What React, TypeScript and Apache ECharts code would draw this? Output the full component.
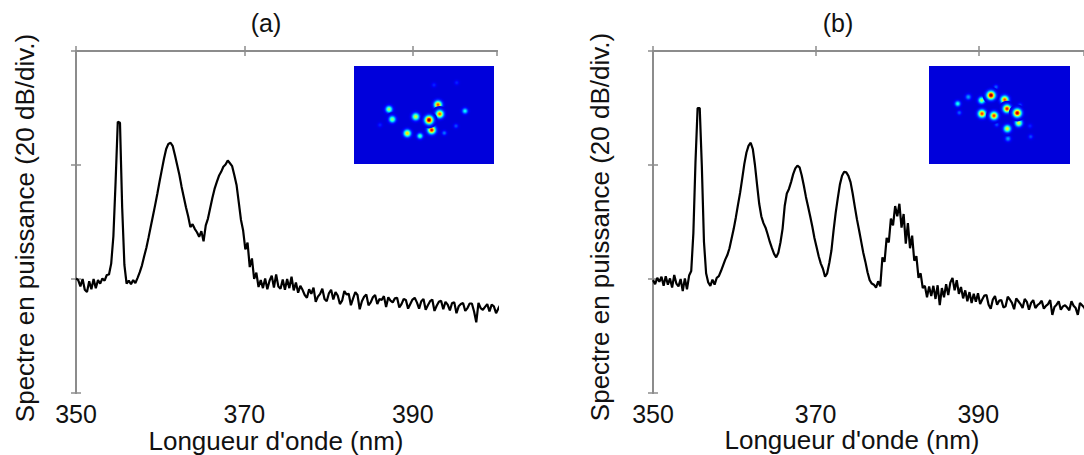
import React, { useEffect, useRef } from "react";
import * as echarts from "echarts";

// ---------- data ----------
// Spectra were read off the figure at a regular sampling step (nm) starting at 350 nm
const STEP_NM = 0.2612;
const START_NM = 350;

// Panel (a): power spectrum, dB (20 dB/div)
const spectrumA = [
  -39.9,
  -40.2, -41.3, -40.0, -41.9, -42.3, -40.4, -41.8, -40.0, -41.6, -40.2,
  -40.8, -39.9, -40.3, -39.3, -39.2, -37.3, -32.5, -23.0, -12.4, -12.6,
  -27.5, -37.5, -40.8, -40.3, -40.9, -40.2, -40.7, -39.8, -38.8, -37.6,
  -36.0, -34.5, -32.7, -30.8, -28.9, -27.0, -25.0, -22.9, -20.9, -18.9,
  -17.2, -16.3, -16.1, -16.7, -18.3, -20.0, -21.7, -23.8, -25.6, -27.4,
  -29.0, -30.9, -30.4, -31.2, -31.8, -32.6, -31.6, -33.4, -30.6, -29.4,
  -27.6, -25.8, -24.2, -23.0, -21.9, -21.2, -20.3, -19.9, -19.2, -19.7,
  -20.2, -21.8, -23.5, -26.5, -29.6, -31.5, -34.8, -33.6, -37.9, -36.4,
  -40.0, -38.9, -41.4, -40.2, -41.6, -39.9, -41.8, -40.3, -39.4, -41.5,
  -39.2, -41.3, -41.7, -40.1, -41.9, -40.0, -41.6, -39.6, -42.0, -40.6,
  -42.4, -41.2, -41.9, -42.8, -43.3, -41.8, -42.6, -41.5, -44.0, -43.1,
  -42.6, -41.7, -43.5, -43.9, -42.5, -41.9, -43.6, -42.3, -42.9, -44.4,
  -43.8, -42.1, -42.7, -42.6, -44.6, -43.4, -42.3, -42.8, -45.3, -43.9,
  -43.1, -42.7, -44.6, -44.1, -43.2, -42.8, -44.4, -43.5, -43.7, -43.0,
  -44.9, -43.2, -43.8, -44.1, -43.4, -43.3, -45.0, -44.4, -43.5, -43.7,
  -45.2, -44.4, -43.6, -43.3, -44.1, -45.2, -43.9, -43.5, -45.4, -44.6,
  -43.9, -43.6, -45.6, -44.7, -44.0, -43.8, -45.3, -44.0, -44.5, -45.5,
  -44.2, -44.1, -46.0, -44.8, -44.4, -44.2, -45.6, -45.1, -44.3, -44.3,
  -45.7, -47.6, -44.2, -45.1, -45.4, -44.9, -44.4, -45.7, -44.5, -44.8,
  -46.0, -45.2, -44.5, -44.9, -45.8, -46.3, -44.6, -45.2, -44.4, -46.4,
  -44.9,
];

// Panel (b): power spectrum, dB
const spectrumB = [
  -40.2, -40.9, -39.8,
  -40.5, -39.6, -41.2, -39.5, -41.0, -39.9, -41.5, -39.3, -40.8, -41.3,
  -40.0, -42.1, -39.9, -41.8, -39.4, -38.6, -32.0, -19.5, -10.0, -10.0,
  -20.3, -33.5, -39.0, -40.6, -41.2, -40.1, -41.0, -39.8, -39.5, -38.6,
  -37.6, -36.6, -35.8, -34.6, -32.9, -31.2, -29.2, -27.0, -24.9, -22.4,
  -19.8, -17.8, -16.6, -16.1, -17.2, -20.0, -23.5, -26.8, -29.0, -30.2,
  -31.0, -32.2, -33.5, -34.6, -35.6, -36.2, -35.4, -33.6, -31.2, -27.2,
  -25.0, -24.2, -23.0, -21.6, -20.6, -20.1, -20.4, -21.8, -23.6, -25.6,
  -27.3, -29.0, -30.8, -32.8, -34.4, -36.0, -37.3, -38.2, -39.6, -39.0,
  -37.2, -35.0, -31.5, -28.4, -25.8, -23.4, -21.9, -21.2, -21.3, -21.9,
  -23.0, -25.0, -27.3, -29.5, -31.4, -33.4, -35.4, -37.0, -38.8, -40.2,
  -40.8, -41.0, -41.5, -40.4, -41.3, -36.2, -37.0, -32.8, -33.6, -29.4,
  -30.6, -27.2, -29.0, -26.8, -31.0, -28.6, -33.8, -30.2, -34.6, -32.4,
  -36.8, -36.0, -39.8, -39.0, -41.6, -41.2, -43.2, -41.3, -43.0, -41.2,
  -43.5, -41.1, -44.6, -41.6, -43.2, -40.9, -42.8, -40.6, -39.8, -42.0,
  -40.2, -42.6, -41.4, -43.4, -42.0, -43.9, -42.3, -44.2, -42.6, -44.0,
  -42.5, -44.4, -43.6, -42.9, -42.8, -44.5, -45.2, -43.6, -43.0, -44.5,
  -43.8, -43.7, -45.0, -44.8, -43.1, -43.6, -44.2, -45.3, -43.4, -43.9,
  -44.4, -45.1, -43.5, -44.0, -45.4, -44.2, -43.7, -45.1, -44.6, -44.3,
  -43.8, -45.2, -44.7, -44.4, -43.7, -46.3, -44.9, -44.5, -43.9, -45.4,
  -44.8, -44.6, -45.0, -45.5, -43.9, -44.7, -45.1, -46.3, -44.2, -44.6,
  -45.0, -45.8, -44.2, -44.6, -45.3, -45.9, -44.4, -44.7, -45.5,
];

const xTickStep = 20; // ticks at 350, 370, 390 nm
const panelTitles = ["(a)", "(b)"];
const xAxisTitle = "Longueur d'onde (nm)";
const yAxisTitle = "Spectre en puissance (20 dB/div.)";

// Inset camera images: spots [x, y, peak intensity 0..1, radius] in inset pixels
const spotsA = [
  [26, 59, 0.16, 5], [80, 19, 0.16, 5], [102.7, 16.7, 0.16, 5], [102, 60, 0.2, 5],
  [90.3, 67, 0.24, 5], [111, 45, 0.38, 6], [66, 70, 0.45, 6],
  [35, 43.3, 0.55, 7], [38.3, 53.3, 0.52, 7], [61.7, 50.7, 0.6, 7.5],
  [53.3, 67.3, 0.68, 7.5], [84, 38.7, 0.82, 8], [85.7, 48, 0.8, 8],
  [77.7, 64, 0.9, 8], [75, 54, 1.0, 8.5],
];
const spotsB = [
  [101, 60, 0.16, 5], [67.7, 58.7, 0.2, 5], [91, 39.3, 0.2, 5], [30.3, 46.7, 0.22, 5],
  [101.7, 70.7, 0.2, 5], [67, 21, 0.22, 5], [79, 72.7, 0.28, 6], [39.3, 31, 0.28, 6],
  [28.7, 37.7, 0.4, 6], [52.7, 34.3, 0.55, 7], [89.7, 57, 0.62, 7.5],
  [78.3, 62.7, 0.62, 7.5], [75.7, 33.7, 0.82, 8], [53, 47.7, 0.84, 8],
  [65, 49.7, 0.84, 8], [78, 42.7, 0.88, 8], [88.3, 47, 0.95, 8.5], [62, 29.3, 1.0, 8.5],
];

// ---------- helpers ----------
const clamp = (v: number) => Math.max(0, Math.min(1, v));
function jet(v: number): string {
  const r = clamp(1.5 - Math.abs(4 * v - 3));
  const g = clamp(1.5 - Math.abs(4 * v - 2));
  const b = clamp(1.5 - Math.abs(4 * v - 1));
  return `rgb(${Math.round(r * 255)},${Math.round(g * 255)},${Math.round(b * 255)})`;
}
const BG_LEVEL = 0.09;

function insetGroup(x: number, y: number, w: number, h: number, spots: number[][]) {
  const children: any[] = [
    { type: "rect", shape: { x: 0, y: 0, width: w, height: h }, style: { fill: jet(BG_LEVEL) } },
  ];
  spots.forEach(([sx, sy, p, r]) => {
    const offs = [0, 0.1, 0.2, 0.3, 0.4, 0.5, 0.6, 0.7, 0.85, 1];
    const colorStops = offs.map((o) => ({
      offset: o,
      color: jet(BG_LEVEL + (p - BG_LEVEL) * Math.exp(-Math.pow(o * 2.3, 2))),
    }));
    children.push({
      type: "circle",
      shape: { cx: sx, cy: sy, r: r },
      style: { fill: { type: "radial", x: 0.5, y: 0.5, r: 0.5, colorStops } },
    });
  });
  return { type: "group", x, y, children, z: 100 };
}

const FONT = "'Liberation Sans', Arial, sans-serif";
const AXIS_COLOR = "#8c8c8c";
const TEXT_COLOR = "#111111";

// x is expressed as offset from 350 nm so that ticks fall on 350, 370, 390
function toPairs(values: number[]) {
  return values.map((v, i) => [i * STEP_NM, v]);
}

export default function App() {
  const ref = useRef<HTMLDivElement>(null);

  useEffect(() => {
    if (!ref.current) return;
    const chart = echarts.init(ref.current, undefined, { renderer: "svg" });

    const axisLine = { show: true, lineStyle: { color: AXIS_COLOR, width: 2 } };
    const tick = {
      show: true,
      inside: true,
      length: 5,
      lineStyle: { color: AXIS_COLOR, width: 1.5 },
    };

    const xAxes: any[] = [];
    const yAxes: any[] = [];
    const xMax = [50, 53];
    [0, 1].forEach((g) => {
      xAxes.push({
        type: "value",
        gridIndex: g,
        position: "bottom",
        min: 0,
        max: xMax[g],
        interval: xTickStep,
        axisLine,
        axisTick: tick,
        axisLabel: {
          formatter: (v: number) => String(v + START_NM),
          fontSize: 25,
          color: TEXT_COLOR,
          fontFamily: FONT,
          margin: 8,
          showMaxLabel: false,
        },
        splitLine: { show: false },
      });
      xAxes.push({
        type: "value",
        gridIndex: g,
        position: "top",
        min: 0,
        max: xMax[g],
        interval: xTickStep,
        axisLine,
        axisTick: tick,
        axisLabel: { show: false },
        splitLine: { show: false },
      });
      yAxes.push({
        type: "value",
        gridIndex: g,
        position: "left",
        min: -60,
        max: 0,
        interval: 20,
        axisLine,
        axisTick: tick,
        axisLabel: { show: false },
        splitLine: { show: false },
      });
      yAxes.push({
        type: "value",
        gridIndex: g,
        position: "right",
        min: -60,
        max: 0,
        interval: 20,
        axisLine,
        axisTick: tick,
        axisLabel: { show: false },
        splitLine: { show: false },
      });
    });

    const textEl = (x: number, y: number, text: string, size: number, rotate = 0) => ({
      type: "text",
      x,
      y,
      rotation: rotate,
      style: {
        text,
        fill: TEXT_COLOR,
        font: `${size}px ${FONT}`,
        textAlign: "center",
        textVerticalAlign: "middle",
      },
    });

    chart.setOption({
      animation: false,
      backgroundColor: "#ffffff",
      grid: [
        { left: 76, top: 51, width: 421, height: 342 },
        { left: 653, top: 51, width: 443, height: 342 },
      ],
      xAxis: xAxes,
      yAxis: yAxes,
      series: [
        {
          type: "line",
          name: panelTitles[0],
          xAxisIndex: 0,
          yAxisIndex: 0,
          data: toPairs(spectrumA),
          showSymbol: false,
          lineStyle: { color: "#000000", width: 2.2 },
          clip: true,
        },
        {
          type: "line",
          name: panelTitles[1],
          xAxisIndex: 2,
          yAxisIndex: 2,
          data: toPairs(spectrumB),
          showSymbol: false,
          lineStyle: { color: "#000000", width: 2.2 },
          clip: true,
        },
      ],
      graphic: [
        textEl(266, 23, panelTitles[0], 25),
        textEl(838, 23, panelTitles[1], 25),
        textEl(276, 441, xAxisTitle, 26),
        textEl(852, 440, xAxisTitle, 26),
        textEl(25, 228, yAxisTitle, 26, Math.PI / 2),
        textEl(600, 227, yAxisTitle, 26, Math.PI / 2),
        insetGroup(354, 66, 140, 98, spotsA),
        insetGroup(929, 66, 141, 98, spotsB),
      ],
    });

    return () => chart.dispose();
  }, []);

  return (
    <div
      ref={ref}
      style={{ position: "absolute", left: 0, top: 0, width: 1084, height: 455, background: "#fff" }}
    />
  );
}
